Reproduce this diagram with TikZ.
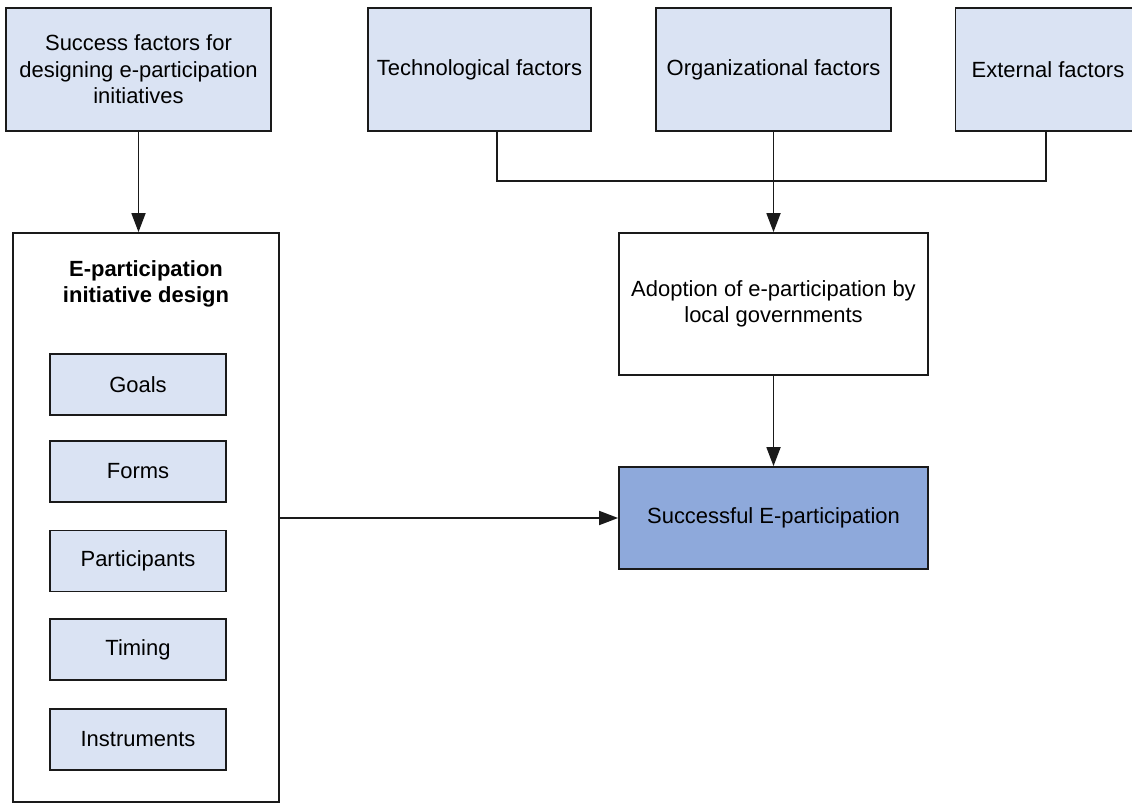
\documentclass[tikz,border=0pt]{standalone}
\usepackage{fontspec}
\setmainfont{Liberation Sans}
\usetikzlibrary{arrows.meta}
\usetikzlibrary{positioning}
\definecolor{lblue}{HTML}{DAE3F3}
\definecolor{mblue}{HTML}{8EA9DB}
\definecolor{edge}{HTML}{1A1A1A}
\tikzset{box/.style = {draw = edge, line width = 1pt, align = center, inner sep = 2pt,
                       font = \fontsize{12.5}{15}\selectfont}}
\tikzset{lbox/.style = {box, fill = lblue}}
\tikzset{conn/.style = {draw = edge, line width = 1pt}}
\tikzset{arr/.style = {conn, -{Triangle[length = 3.8mm, width = 2.8mm]}}}

\begin{document}
\begin{tikzpicture}[x = 0.2mm, y = -0.2mm]
    \useasboundingbox (0, 0) rectangle (1132, 804);
    \begin{scope}
    \clip (0, 0) rectangle (1132, 804);

    % top row
    \node [lbox, minimum width = 53mm, minimum height = 24.6mm] (succfac) at (138.5, 69.5)
        {Success factors for\\designing e-participation\\initiatives};
    \node [lbox, minimum width = 44.6mm, minimum height = 24.6mm] (tech) at (479.5, 69.5)
        {Technological factors};
    \node [lbox, minimum width = 47mm, minimum height = 24.6mm] (org) at (773.5, 69.5)
        {Organizational factors};
    \node [lbox, minimum width = 37mm, minimum height = 24.6mm] (ext) at (1048, 69.5)
        {External factors};

    % design container
    \node [box, minimum width = 53.2mm, minimum height = 113.8mm] (design) at (146, 517.5) {};
    \node [align = center, font = \fontsize{12.5}{15}\selectfont\bfseries] (title) at (146, 284)
        {E-participation\\initiative design};
    \node [lbox, minimum width = 35.2mm, minimum height = 12.2mm] (goals) at (138, 384.5) {Goals};
    \node [lbox, minimum width = 35.2mm, minimum height = 12.2mm] (forms) at (138, 471.5) {Forms};
    \node [lbox, minimum width = 35.2mm, minimum height = 12.2mm] (parts) at (138, 561) {Participants};
    \node [lbox, minimum width = 35.2mm, minimum height = 12.2mm] (timing) at (138, 649.5) {Timing};
    \node [lbox, minimum width = 35.2mm, minimum height = 12.2mm] (instr) at (138, 739.5) {Instruments};

    % right column
    \node [box, fill = white, minimum width = 61.8mm, minimum height = 28.4mm] (adopt) at (773.5, 304)
        {Adoption of e-participation by\\local governments};
    \node [box, fill = mblue, minimum width = 61.8mm, minimum height = 20.4mm] (success) at (773.5, 518)
        {Successful E-participation};

    % connectors
    \coordinate (join) at (773.5, 181);
    \draw [arr] (succfac.south) -- (succfac.south |- design.north);
    \draw [conn] (tech.south -| 497, 0) -- (497, 181) -- (join);
    \draw [conn] (ext.south -| 1046, 0) -- (1046, 181) -- (join);
    \draw [arr] (org.south) -- (adopt.north);
    \draw [arr] (adopt.south) -- (success.north);
    \draw [arr] (design.east |- success.west) -- (success.west);
    \end{scope}
\end{tikzpicture}
\end{document}
